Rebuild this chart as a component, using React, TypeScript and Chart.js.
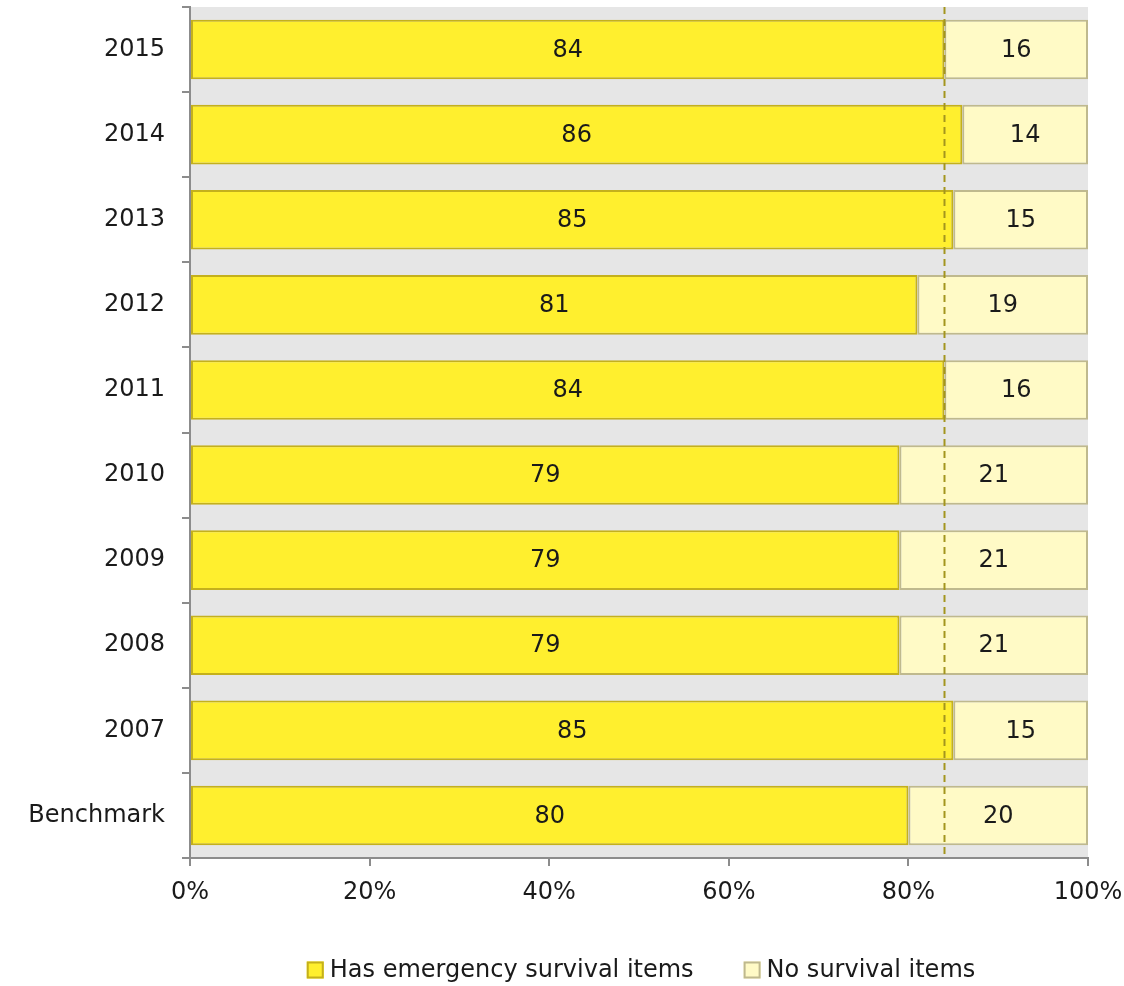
import React, { useEffect, useRef } from "react";
import { Chart, registerables } from "chart.js";

Chart.register(...registerables);

const categories = ["2015", "2014", "2013", "2012", "2011", "2010", "2009", "2008", "2007", "Benchmark"];
const hasItems = [84, 86, 85, 81, 84, 79, 79, 79, 85, 80];
const noItems = [16, 14, 15, 19, 16, 21, 21, 21, 15, 20];
const xTicks = [0, 20, 40, 60, 80, 100];
const referenceValue = 84;

const FONT = "'DejaVu Sans', sans-serif";
const TEXT = "#1a1a1a";

const bgPlugin = {
  id: "plotBg",
  beforeDraw(chart: any) {
    const { ctx, chartArea } = chart;
    ctx.save();
    ctx.fillStyle = "#e6e6e6";
    ctx.fillRect(chartArea.left, chartArea.top, chartArea.right - chartArea.left, chartArea.bottom - chartArea.top);
    ctx.restore();
  },
};

const labelsPlugin = {
  id: "valueLabels",
  afterDatasetsDraw(chart: any) {
    const { ctx } = chart;
    ctx.save();
    ctx.font = `24px ${FONT}`;
    ctx.fillStyle = TEXT;
    ctx.textAlign = "center";
    ctx.textBaseline = "middle";
    chart.data.datasets.forEach((ds: any, di: number) => {
      const meta = chart.getDatasetMeta(di);
      meta.data.forEach((bar: any, i: number) => {
        const x = (bar.x + bar.base) / 2;
        ctx.fillText(String(ds.data[i]), x, bar.y + 1);
      });
    });
    ctx.restore();
  },
};

const refLinePlugin = {
  id: "refLine",
  afterDatasetsDraw(chart: any) {
    const { ctx, chartArea, scales } = chart;
    const x = Math.round(scales.x.getPixelForValue(referenceValue)) + 0.5;
    ctx.save();
    ctx.strokeStyle = "#a3951e";
    ctx.lineWidth = 2;
    ctx.setLineDash([7, 5]);
    ctx.beginPath();
    ctx.moveTo(x, chartArea.top);
    ctx.lineTo(x, chartArea.bottom);
    ctx.stroke();
    ctx.restore();
  },
};

const legendPlugin = {
  id: "customLegend",
  afterDraw(chart: any) {
    const { ctx, chartArea } = chart;
    const font = `24px ${FONT}`;
    const box = 17;
    const gap = 6;
    const spacing = 50;
    ctx.save();
    ctx.font = font;
    const items = chart.data.datasets.map((ds: any) => ({
      label: ds.label,
      fill: ds.backgroundColor,
      stroke: ds.borderColor,
      w: box + gap + ctx.measureText(ds.label).width,
    }));
    const total = items.reduce((s: number, it: any) => s + it.w, 0) + spacing * (items.length - 1);
    let x = (chartArea.left + chartArea.right) / 2 + 2 - total / 2;
    const cy = chartArea.bottom + 112;
    ctx.textBaseline = "middle";
    ctx.textAlign = "left";
    items.forEach((it: any) => {
      ctx.fillStyle = it.fill;
      ctx.fillRect(x, cy - box / 2, box, box);
      ctx.strokeStyle = it.stroke;
      ctx.lineWidth = 2;
      ctx.strokeRect(x + 1, cy - box / 2 + 1, box - 2, box - 2);
      ctx.fillStyle = TEXT;
      ctx.fillText(it.label, x + box + gap, cy + 1);
      x += it.w + spacing;
    });
    ctx.restore();
  },
};

export default function App() {
  const ref = useRef<HTMLCanvasElement | null>(null);
  useEffect(() => {
    if (!ref.current) return;
    const chart = new Chart(ref.current, {
      type: "bar",
      data: {
        labels: categories,
        datasets: [
          {
            label: "Has emergency survival items",
            data: hasItems,
            backgroundColor: "#ffef2e",
            borderColor: "#c4b01c",
            borderWidth: 2,
            borderSkipped: false,
            barPercentage: 0.7,
            categoryPercentage: 1,
          },
          {
            label: "No survival items",
            data: noItems,
            backgroundColor: "#fffac6",
            borderColor: "#bfb98e",
            borderWidth: 2,
            borderSkipped: false,
            barPercentage: 0.7,
            categoryPercentage: 1,
          },
        ],
      },
      options: {
        indexAxis: "y",
        animation: false,
        responsive: true,
        maintainAspectRatio: false,
        layout: { padding: { top: 7, right: 36, left: 0, bottom: 78 } },
        scales: {
          x: {
            stacked: true,
            min: 0,
            max: 100,
            afterBuildTicks: (scale: any) => {
              scale.ticks = xTicks.map((v) => ({ value: v }));
            },
            afterFit: (scale: any) => {
              scale.height = 50;
              scale.paddingLeft = 0;
              scale.paddingRight = 0;
            },
            ticks: {
              callback: (v: any) => `${v}%`,
              color: TEXT,
              font: { family: FONT, size: 24 },
              padding: 12,
            },
            grid: {
              drawOnChartArea: false,
              drawTicks: true,
              tickLength: 8,
              color: "#8c8c8c",
              lineWidth: 2,
            },
            border: { display: true, color: "#8c8c8c", width: 2 },
          },
          y: {
            stacked: true,
            afterFit: (scale: any) => {
              scale.width = 190;
              scale.paddingTop = 0;
              scale.paddingBottom = 0;
            },
            ticks: {
              color: TEXT,
              font: { family: FONT, size: 24 },
              padding: 17,
            },
            grid: {
              offset: true,
              drawOnChartArea: false,
              drawTicks: true,
              tickLength: 8,
              color: "#8c8c8c",
              lineWidth: 2,
            },
            border: { display: true, color: "#8c8c8c", width: 2 },
          },
        },
        plugins: {
          legend: { display: false },
          tooltip: { enabled: false },
        },
      },
      plugins: [bgPlugin, labelsPlugin, refLinePlugin, legendPlugin],
    } as any);
    return () => chart.destroy();
  }, []);

  return (
    <div style={{ position: "absolute", left: 0, top: 0, width: 1124, height: 986, background: "#fff" }}>
      <canvas ref={ref} />
    </div>
  );
}
